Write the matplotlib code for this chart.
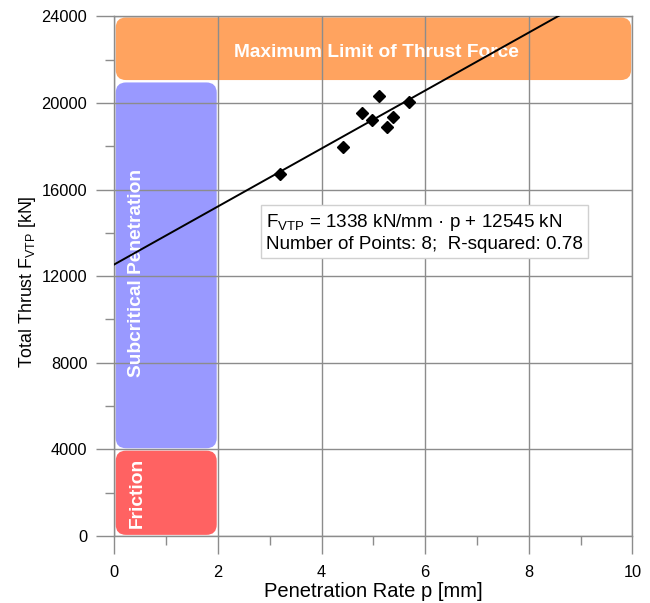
import matplotlib
matplotlib.use("Agg")
import matplotlib.pyplot as plt
from matplotlib.patches import FancyBboxPatch
from matplotlib.ticker import MultipleLocator
import numpy as np

plt.rcParams['font.family'] = ['Liberation Sans', 'DejaVu Sans']
plt.rcParams['mathtext.fontset'] = 'custom'
plt.rcParams['mathtext.rm'] = 'Liberation Sans'
plt.rcParams['mathtext.it'] = 'Liberation Sans:italic'
plt.rcParams['mathtext.default'] = 'regular'

# Data
penetration_rate = [3.20, 4.42, 4.77, 4.97, 5.11, 5.26, 5.38, 5.69]
total_thrust = [16700, 17970, 19550, 19230, 20340, 18900, 19330, 20040]
fit_slope = 1338
fit_intercept = 12545
eq_text = r"F$_{VTP}$ = 1338 kN/mm · p + 12545 kN" + "\n" + "Number of Points: 8;  R-squared: 0.78"

# Regions: (x0, x1, y0, y1, color, label, rotation, label_x, label_y)
regions = [
    (0.0, 10.0, 21000, 24000, '#FFA35F', 'Maximum Limit of Thrust Force', 0, 5.05, 22330),
    (0.0, 2.0, 4000, 21000, '#9999FF', 'Subcritical Penetration', 90, 0.43, 12150),
    (0.0, 2.0, 0, 4000, '#FF6262', 'Friction', 90, 0.45, 2000),
]

fig = plt.figure(figsize=(6.5, 6.03), dpi=100)
ax = fig.add_axes([0.176, 0.111, 0.797, 0.862])
ax.set_xlim(0, 10)
ax.set_ylim(0, 24000)

# aspect for rounded corners
px_per_x = 0.797 * 650 / 10
px_per_y = 0.862 * 603 / 24000
aspect = px_per_x / px_per_y
inset_x = 0.025
inset_y = 55
for x0, x1, y0, y1, col, lab, rot, lx, ly in regions:
    p = FancyBboxPatch((x0 + inset_x, y0 + inset_y),
                       (x1 - x0) - 2 * inset_x, (y1 - y0) - 2 * inset_y,
                       boxstyle="round,pad=0,rounding_size=0.2",
                       mutation_aspect=aspect,
                       fc=col, ec='none', zorder=0.5)
    ax.add_patch(p)
    ax.text(lx, ly, lab, rotation=rot, color='white', fontsize=13.8,
            fontweight='bold', ha='center', va='center', zorder=3)

# Grid
ax.xaxis.set_major_locator(MultipleLocator(2))
ax.xaxis.set_minor_locator(MultipleLocator(1))
ax.yaxis.set_major_locator(MultipleLocator(4000))
ax.yaxis.set_minor_locator(MultipleLocator(2000))
ax.grid(True, which='major', color='#8c8c8c', linewidth=1.0, zorder=1.5)
ax.set_axisbelow('line')
for s in ax.spines.values():
    s.set_color('#8c8c8c')
    s.set_linewidth(1.0)
ax.tick_params(which='major', length=13, width=1.0, color='#8c8c8c',
               labelsize=11.8, direction='out')
ax.tick_params(axis='y', which='major', pad=6.5)
ax.tick_params(axis='x', which='major', pad=7.5)
ax.tick_params(which='minor', length=6.5, width=1.0, color='#8c8c8c', direction='out')

# Fit line
xl = np.array([0.0, 10.0])
ax.plot(xl, fit_slope * xl + fit_intercept, color='black', lw=1.4, zorder=4)

# Points
ax.plot(penetration_rate, total_thrust, 'D', color='black', markersize=6.2,
        zorder=5, clip_on=False)

ax.text(2.93, 14980, eq_text, fontsize=13.6, ha='left', va='top', linespacing=1.28,
        zorder=6,
        bbox=dict(boxstyle='square,pad=0.25', fc='white', ec='#d0d0d0', lw=1))

ax.set_xlabel('Penetration Rate p [mm]', fontsize=14.5)
ax.set_ylabel(r'Total Thrust F$_{VTP}$ [kN]', fontsize=12.8)
ax.xaxis.set_label_coords(0.5, -0.088)
ax.yaxis.set_label_coords(-0.148, 0.49)

fig.savefig('out.png', dpi=100)
